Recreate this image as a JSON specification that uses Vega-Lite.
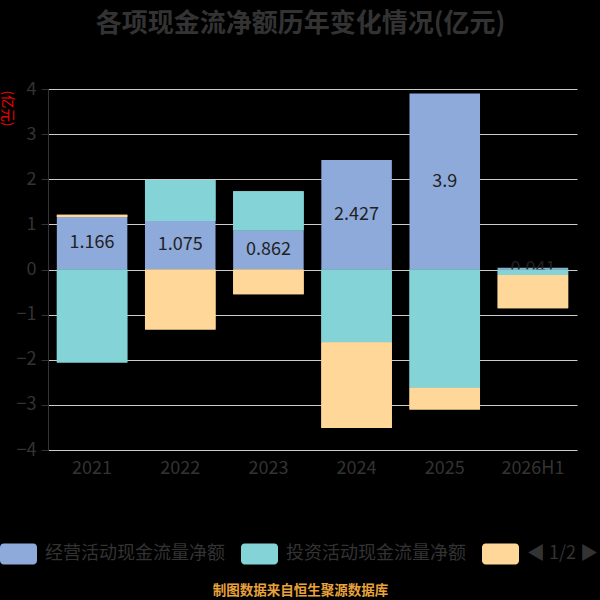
{
  "$schema": "https://vega.github.io/schema/vega-lite/v6.json",
  "width": 529,
  "height": 361,
  "autosize": {"type": "none"},
  "padding": {"left": 48, "top": 89, "right": 23, "bottom": 150},
  "background": "#000000",
  "view": {"stroke": null},
  "title": {
    "text": "各项现金流净额历年变化情况(亿元)",
    "font": "Noto Sans CJK SC",
    "fontSize": 26,
    "fontWeight": "bold",
    "color": "#333333",
    "anchor": "middle",
    "dx": -12,
    "offset": 43
  },
  "data": {
    "values": [
      {"year": "2021", "item": "经营活动现金流量净额", "value": 1.166},
      {"year": "2021", "item": "投资活动现金流量净额", "value": -2.06},
      {"year": "2021", "item": "筹资活动现金流量净额", "value": 0.045},
      {"year": "2022", "item": "经营活动现金流量净额", "value": 1.075},
      {"year": "2022", "item": "投资活动现金流量净额", "value": 0.91},
      {"year": "2022", "item": "筹资活动现金流量净额", "value": -1.33},
      {"year": "2023", "item": "经营活动现金流量净额", "value": 0.862},
      {"year": "2023", "item": "投资活动现金流量净额", "value": 0.87},
      {"year": "2023", "item": "筹资活动现金流量净额", "value": -0.55},
      {"year": "2024", "item": "经营活动现金流量净额", "value": 2.427},
      {"year": "2024", "item": "投资活动现金流量净额", "value": -1.61},
      {"year": "2024", "item": "筹资活动现金流量净额", "value": -1.9},
      {"year": "2025", "item": "经营活动现金流量净额", "value": 3.9},
      {"year": "2025", "item": "投资活动现金流量净额", "value": -2.62},
      {"year": "2025", "item": "筹资活动现金流量净额", "value": -0.48},
      {"year": "2026H1", "item": "经营活动现金流量净额", "value": 0.041},
      {"year": "2026H1", "item": "投资活动现金流量净额", "value": -0.12},
      {"year": "2026H1", "item": "筹资活动现金流量净额", "value": -0.74}
    ]
  },
  "transform": [
    {"stack": "value", "groupby": ["year"], "as": ["v0", "v1"]}
  ],
  "encoding": {
    "x": {
      "field": "year",
      "type": "ordinal",
      "sort": null,
      "scale": {"paddingInner": 0.2, "paddingOuter": 0.1},
      "axis": {
        "domain": false,
        "ticks": false,
        "labelAngle": 0,
        "labelFont": "Noto Sans CJK SC",
        "labelFontSize": 18,
        "labelColor": "#333333",
        "labelPadding": 9,
        "title": "制图数据来自恒生聚源数据库",
        "titleFont": "Noto Sans CJK SC",
        "titleFontSize": 13.5,
        "titleFontWeight": "bold",
        "titleColor": "#e8a33c",
        "titleX": 252,
        "titleY": 140,
        "titleAlign": "center",
        "titleBaseline": "middle"
      }
    }
  },
  "layer": [
    {
      "mark": {"type": "bar"},
      "encoding": {
        "y": {
          "field": "v0",
          "type": "quantitative",
          "scale": {"domain": [-4, 4], "nice": false},
          "axis": {
            "values": [-4, -3, -2, -1, 0, 1, 2, 3, 4],
            "grid": true,
            "gridColor": "#cccccc",
            "gridWidth": 1.2,
            "domainColor": "#333333",
            "tickColor": "#333333",
            "tickSize": 7,
            "labelFont": "Noto Sans CJK SC",
            "labelFontSize": 18,
            "labelColor": "#333333",
            "labelPadding": 5,
            "title": "(亿元)",
            "titleFont": "Noto Sans CJK SC",
            "titleFontSize": 13.5,
            "titleFontWeight": "normal",
            "titleColor": "#ff0000",
            "titleAngle": 90,
            "titleX": -42,
            "titleY": 1,
            "titleAlign": "left",
            "titleBaseline": "middle"
          }
        },
        "y2": {"field": "v1"},
        "color": {
          "field": "item",
          "type": "nominal",
          "scale": {
            "domain": ["经营活动现金流量净额", "投资活动现金流量净额", "筹资活动现金流量净额"],
            "range": ["#8eaadb", "#84d4d7", "#ffd899"]
          },
          "legend": {
            "orient": "none",
            "legendX": -48,
            "legendY": 446,
            "direction": "horizontal",
            "title": null,
            "padding": 0,
            "symbolType": "M-0.8,-0.57 L0.8,-0.57 A0.2,0.2 0 0 1 1,-0.37 L1,0.37 A0.2,0.2 0 0 1 0.8,0.57 L-0.8,0.57 A0.2,0.2 0 0 1 -1,0.37 L-1,-0.37 A0.2,0.2 0 0 1 -0.8,-0.57 Z",
            "symbolSize": 1369,
            "symbolStrokeWidth": 0,
            "symbolOpacity": 1,
            "labelFont": "Noto Sans CJK SC",
            "labelFontSize": 18,
            "labelColor": "#333333",
            "labelOffset": 8,
            "labelLimit": 300,
            "columnPadding": 16,
            "labelExpr": "datum.label == '筹资活动现金流量净额' ? '◀ 1/2 ▶' : datum.label"
          }
        }
      }
    },
    {
      "transform": [
        {"filter": "datum.item == '经营活动现金流量净额'"},
        {"calculate": "(datum.v0 + datum.v1) / 2", "as": "mid"}
      ],
      "mark": {
        "type": "text",
        "font": "Noto Sans CJK SC",
        "fontSize": 18,
        "color": "#222222",
        "baseline": "middle"
      },
      "encoding": {
        "y": {"field": "mid", "type": "quantitative"},
        "text": {"field": "value", "type": "nominal"}
      }
    },
    {
      "transform": [{"filter": "datum.item != '经营活动现金流量净额'"}],
      "mark": {"type": "bar"},
      "encoding": {
        "y": {"field": "v0", "type": "quantitative"},
        "y2": {"field": "v1"},
        "color": {"field": "item", "type": "nominal"}
      }
    }
  ]
}
